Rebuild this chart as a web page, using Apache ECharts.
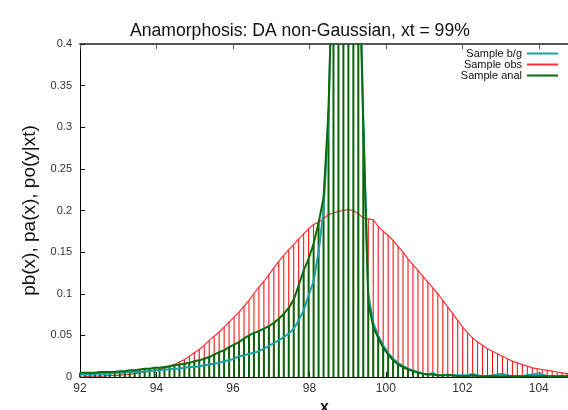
<!DOCTYPE html>
<html>
<head>
<meta charset="utf-8">
<script src="https://cdn.jsdelivr.net/npm/echarts@6.0.0/dist/echarts.min.js"></script>
<style>
  html, body { margin: 0; padding: 0; background: #fff; overflow: hidden; }
  /* plot runs a little past the right edge, like the original crop */
  #chart { width: 577px; height: 410px; }
</style>
</head>
<body>
<div id="chart"></div>
<script>
// bin centres
const xs = [
  92.00, 92.13, 92.26, 92.39, 92.52, 92.65, 92.78, 92.91, 93.04, 93.17,
  93.30, 93.43, 93.56, 93.69, 93.82, 93.95, 94.08, 94.21, 94.34, 94.47,
  94.60, 94.73, 94.86, 94.99, 95.12, 95.25, 95.38, 95.51, 95.64, 95.77,
  95.90, 96.03, 96.16, 96.29, 96.42, 96.55, 96.68, 96.81, 96.94, 97.07,
  97.20, 97.33, 97.46, 97.59, 97.72, 97.85, 97.98, 98.11, 98.24, 98.37,
  98.50, 98.63, 98.76, 98.89, 99.02, 99.15, 99.28, 99.41, 99.54, 99.67,
  99.80, 99.93, 100.06, 100.19, 100.32, 100.45, 100.58, 100.71, 100.84, 100.97,
  101.10, 101.23, 101.36, 101.49, 101.62, 101.75, 101.88, 102.01, 102.14, 102.27,
  102.40, 102.53, 102.66, 102.79, 102.92, 103.05, 103.18, 103.31, 103.44, 103.57,
  103.70, 103.83, 103.96, 104.09, 104.22, 104.35, 104.48, 104.61, 104.74, 104.87,
  105.00
]

// Sample obs
const obs = [
  0.000, 0.000, 0.001, 0.001, 0.001, 0.001, 0.002, 0.002, 0.002, 0.003,
  0.003, 0.004, 0.005, 0.006, 0.007, 0.008, 0.009, 0.011, 0.013, 0.015,
  0.018, 0.021, 0.025, 0.029, 0.033, 0.038, 0.044, 0.049, 0.054, 0.060,
  0.066, 0.072, 0.078, 0.085, 0.092, 0.100, 0.108, 0.115, 0.123, 0.131,
  0.139, 0.146, 0.153, 0.159, 0.166, 0.172, 0.178, 0.183, 0.186, 0.190,
  0.195, 0.197, 0.199, 0.200, 0.201, 0.200, 0.196, 0.191, 0.190, 0.189,
  0.181, 0.175, 0.170, 0.164, 0.157, 0.150, 0.142, 0.135, 0.128, 0.121,
  0.114, 0.107, 0.100, 0.092, 0.084, 0.076, 0.068, 0.060, 0.053, 0.047,
  0.042, 0.038, 0.034, 0.031, 0.028, 0.025, 0.022, 0.019, 0.017, 0.015,
  0.013, 0.011, 0.010, 0.009, 0.008, 0.007, 0.006, 0.005, 0.004, 0.004,
  0.003
]

// Sample anal
const anal = [
  0.005, 0.005, 0.005, 0.005, 0.006, 0.006, 0.006, 0.006, 0.007, 0.007,
  0.008, 0.008, 0.009, 0.010, 0.010, 0.011, 0.011, 0.012, 0.013, 0.014,
  0.015, 0.016, 0.017, 0.019, 0.020, 0.022, 0.024, 0.027, 0.030, 0.032,
  0.036, 0.039, 0.042, 0.046, 0.050, 0.053, 0.055, 0.058, 0.061, 0.065,
  0.070, 0.076, 0.083, 0.093, 0.110, 0.128, 0.142, 0.160, 0.185, 0.215,
  0.320, 0.550, 0.850, 1.000, 1.000, 0.850, 0.550, 0.300, 0.090, 0.060,
  0.047, 0.035, 0.027, 0.020, 0.015, 0.012, 0.009, 0.007, 0.005, 0.004,
  0.003, 0.003, 0.002, 0.002, 0.002, 0.002, 0.001, 0.001, 0.001, 0.002,
  0.001, 0.001, 0.001, 0.001, 0.001, 0.001, 0.001, 0.001, 0.001, 0.001,
  0.001, 0.001, 0.001, 0.001, 0.001, 0.001, 0.001, 0.001, 0.001, 0.001,
  0.001
]

// Sample b/g
const bg = [
  0.003, 0.003, 0.003, 0.004, 0.004, 0.004, 0.004, 0.005, 0.005, 0.005,
  0.006, 0.006, 0.006, 0.007, 0.007, 0.008, 0.008, 0.009, 0.009, 0.010,
  0.010, 0.011, 0.012, 0.012, 0.013, 0.014, 0.015, 0.016, 0.017, 0.019,
  0.020, 0.022, 0.025, 0.026, 0.028, 0.029, 0.031, 0.034, 0.037, 0.041,
  0.044, 0.048, 0.052, 0.058, 0.068, 0.080, 0.098, 0.115, 0.150, 0.200,
  0.310, 0.550, 0.850, 1.000, 1.000, 0.850, 0.560, 0.310, 0.100, 0.065,
  0.050, 0.038, 0.029, 0.022, 0.017, 0.013, 0.010, 0.008, 0.006, 0.004,
  0.003, 0.005, 0.002, 0.002, 0.003, 0.002, 0.002, 0.002, 0.002, 0.004,
  0.002, 0.001, 0.001, 0.002, 0.003, 0.004, 0.002, 0.001, 0.001, 0.001,
  0.002, 0.003, 0.004, 0.003, 0.001, 0.001, 0.001, 0.001, 0.001, 0.001,
  0.001
]

const font = '"Liberation Sans", Arial, sans-serif'
const pairs = (ys) => xs.map((x, i) => [x, ys[i]])

const chart = echarts.init(document.getElementById('chart'))

const option = {
  animation: false,
  title: {
    text: 'Anamorphosis: DA non-Gaussian, xt = 99%',
    left: 125,
    top: 17,
    textStyle: { fontFamily: font, fontSize: 17.6, fontWeight: 'normal', color: '#111' }
  },
  legend: {
    orient: 'vertical',
    right: 19,
    top: 48,
    align: 'right',
    icon: 'rect',
    itemWidth: 31,
    itemHeight: 2,
    itemGap: 0,
    padding: 0,
    textStyle: { fontFamily: font, fontSize: 11, color: '#111', lineHeight: 11 },
    data: ['Sample b/g', 'Sample obs', 'Sample anal']
  },
  grid: { left: 80, top: 44, bottom: 33, right: 0, outerBoundsMode: 'none' },
  xAxis: [
    {
      type: 'value',
      min: 92,
      max: 105,
      interval: 2,
      name: 'x',
      nameLocation: 'middle',
      nameGap: 20,
      nameTextStyle: { fontFamily: font, fontSize: 16, fontWeight: 'bold', color: '#111', padding: [0, 8, 0, 0] },
      axisLine: { lineStyle: { color: '#000', width: 1 } },
      axisTick: { inside: true, length: 5, lineStyle: { color: '#000' } },
      axisLabel: { fontFamily: font, fontSize: 12, color: '#333', margin: 6 },
      splitLine: { show: false }
    },
    {
      type: 'value',
      position: 'top',
      min: 92,
      max: 105,
      interval: 2,
      axisLine: { lineStyle: { color: '#555', width: 2 } },
      axisTick: { inside: true, length: 5, lineStyle: { color: '#555' } },
      axisLabel: { show: false },
      splitLine: { show: false }
    }
  ],
  yAxis: {
    type: 'value',
    min: 0,
    max: 0.4,
    interval: 0.05,
    name: 'pb(x), pa(x), po(y|xt)',
    nameLocation: 'middle',
    nameGap: 38,
    nameTextStyle: { fontFamily: font, fontSize: 19, color: '#111' },
    axisLine: { show: true, lineStyle: { color: '#000', width: 1 } },
    axisTick: { inside: true, length: 5, lineStyle: { color: '#000' } },
    axisLabel: { fontFamily: font, fontSize: 11, color: '#333', margin: 8 },
    splitLine: { show: false }
  },
  series: [
    {
      name: 'obs impulses',
      type: 'bar',
      xAxisIndex: 0,
      barWidth: 1,
      itemStyle: { color: '#ff0000' },
      data: pairs(obs),
      z: 1
    },
    {
      name: 'Sample obs',
      type: 'line',
      xAxisIndex: 0,
      symbol: 'none',
      lineStyle: { color: '#ff3030', width: 1.2 },
      itemStyle: { color: '#ff3030' },
      data: pairs(obs),
      z: 2
    },
    {
      name: 'anal impulses',
      type: 'bar',
      xAxisIndex: 1,
      barWidth: 2,
      itemStyle: { color: '#0a620a' },
      data: pairs(anal),
      z: 3
    },
    {
      name: 'Sample b/g',
      type: 'line',
      xAxisIndex: 0,
      symbol: 'none',
      lineStyle: { color: '#1a9fa6', width: 2 },
      itemStyle: { color: '#1a9fa6' },
      data: pairs(bg),
      z: 4
    },
    {
      name: 'Sample anal',
      type: 'line',
      xAxisIndex: 0,
      symbol: 'none',
      lineStyle: { color: '#0b6b0b', width: 2 },
      itemStyle: { color: '#0b6b0b' },
      data: pairs(anal),
      z: 5
    }
  ]
}

chart.setOption(option)
</script>
</body>
</html>
